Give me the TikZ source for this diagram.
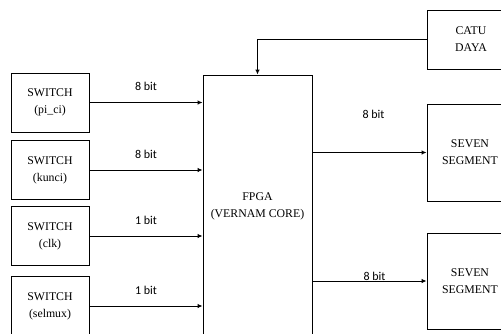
\documentclass[tikz,border=0pt]{standalone}
\usepackage{fontspec}
\setmainfont{Liberation Serif}
\newfontfamily\bitfont{Carlito}
\usetikzlibrary{arrows.meta,calc,positioning}

\begin{document}
\begin{tikzpicture}[x=1pt,y=-1pt,>={Latex[length=5pt,width=4.5pt]},
  blok/.style={draw,line width=0.9pt,align=center,font=\fontsize{11.8}{17}\selectfont},
  sw/.style={blok,minimum width=78pt,minimum height=59pt},
  bitlbl/.style={font=\bitfont\fontsize{12}{14}\selectfont,inner sep=0pt},
  wire/.style={->,line width=0.9pt}]
\useasboundingbox (0,0) rectangle (501,333);
\clip (0,0) rectangle (501,333);
% inputs
\node[sw] (pici) at (50,102.5) {SWITCH\\(pi\_ci)};
\node[sw] (kunci) at (50,170) {SWITCH\\(kunci)};
\node[sw] (clk) at (50,236) {SWITCH\\(clk)};
\node[sw] (selmux) at (50,306) {SWITCH\\(selmux)};
% core
\node[blok,minimum width=109pt,minimum height=262pt] (fpga) at (257.5,206) {FPGA\\(VERNAM CORE)};
% power and outputs
\node[blok,minimum width=88pt,minimum height=59pt] (catu) at (471,39.5) {CATU\\DAYA};
\node[blok,minimum width=86pt,minimum height=97pt] (seg1) at (470,152.5) {SEVEN\\SEGMENT};
\node[blok,minimum width=86pt,minimum height=96pt] (seg2) at (470,281) {SEVEN\\SEGMENT};
% connections
\draw[wire] (pici.east) -- (pici.east -| fpga.west) node[bitlbl,midway,yshift=16pt]{8 bit};
\draw[wire] (kunci.east) -- (kunci.east -| fpga.west) node[bitlbl,midway,yshift=16pt]{8 bit};
\draw[wire] (clk.east) -- (clk.east -| fpga.west) node[bitlbl,midway,yshift=16pt]{1 bit};
\draw[wire] (selmux.east) -- (selmux.east -| fpga.west) node[bitlbl,midway,yshift=16pt]{1 bit};
\draw[wire] (catu.west) -| (fpga.north);
\draw[wire] (seg1.west -| fpga.east) -- (seg1.west) node[bitlbl,midway,xshift=4pt,yshift=38pt]{8 bit};
\draw[wire] (seg2.west -| fpga.east) -- (seg2.west) node[bitlbl,midway,xshift=5pt,yshift=5pt]{8 bit};
\end{tikzpicture}
\end{document}
